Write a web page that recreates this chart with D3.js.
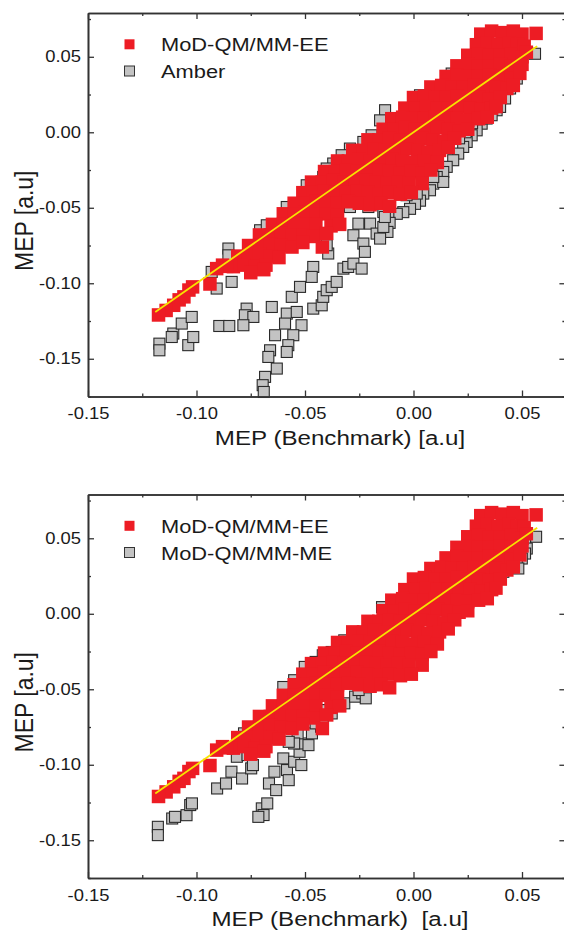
<!DOCTYPE html>
<html>
<head>
<meta charset="utf-8">
<script src="https://cdn.jsdelivr.net/npm/d3@7"></script>
<style>
  body { margin: 0; background: #fff; }
  text { font-family: "Liberation Sans", Arial, sans-serif; fill: #1a1a1a; }
</style>
</head>
<body>
<svg width="564" height="932"></svg>
<script>
const svg = d3.select("svg");

// axis ticks
const xMajor = [-0.15, -0.10, -0.05, 0.00, 0.05];
const xMinor = [-0.125, -0.075, -0.025, 0.025];
const yMajor = [-0.15, -0.10, -0.05, 0.00, 0.05];
const yMinor = [-0.175, -0.125, -0.075, -0.025, 0.025, 0.075];

// fit line (y = x) end points
const fitX = [-0.119, 0.057];
const fitY = [-0.119, 0.057];

// MoD-QM/MM-EE, same in both panels
const modEE = [
  [0.031,0.065],[0.036,0.067],[0.041,0.066],[0.046,0.067],[0.050,0.065],[0.0565,0.0655],
  [0.029,0.058],[0.034,0.059],[0.039,0.058],[0.044,0.059],[0.048,0.058],[0.051,0.057],
  [0.025,0.051],[0.030,0.052],[0.035,0.051],[0.040,0.051],[0.045,0.052],[0.050,0.050],[0.052,0.053],
  [0.020,0.044],[0.025,0.045],[0.030,0.044],[0.035,0.044],[0.040,0.045],[0.045,0.044],[0.050,0.045],
  [0.015,0.037],[0.020,0.038],[0.025,0.037],[0.030,0.037],[0.035,0.038],[0.040,0.037],[0.045,0.036],[0.049,0.039],
  [0.008,0.030],[0.013,0.031],[0.018,0.030],[0.023,0.030],[0.028,0.031],[0.033,0.030],[0.038,0.030],[0.043,0.029],[0.046,0.031],
  [0.000,0.023],[0.005,0.024],[0.010,0.023],[0.015,0.023],[0.020,0.024],[0.025,0.023],[0.030,0.023],[0.035,0.022],[0.040,0.023],
  [-0.004,0.016],[0.001,0.016],[0.006,0.017],[0.011,0.016],[0.016,0.016],[0.021,0.017],[0.026,0.016],[0.031,0.015],[0.036,0.016],[0.038,0.017],
  [-0.010,0.009],[-0.005,0.010],[0.000,0.009],[0.005,0.009],[0.010,0.010],[0.015,0.009],[0.020,0.009],[0.025,0.008],[0.030,0.009],[0.034,0.010],
  [-0.014,0.002],[-0.009,0.002],[-0.004,0.003],[0.001,0.002],[0.006,0.002],[0.011,0.003],[0.016,0.002],[0.021,0.001],[0.025,0.002],
  [-0.021,-0.005],[-0.016,-0.005],[-0.011,-0.004],[-0.006,-0.005],[-0.001,-0.005],[0.004,-0.004],[0.009,-0.005],[0.014,-0.006],[0.019,-0.004],
  [-0.028,-0.012],[-0.023,-0.012],[-0.018,-0.011],[-0.013,-0.012],[-0.008,-0.012],[-0.003,-0.011],[0.002,-0.012],[0.007,-0.013],[0.012,-0.012],[0.016,-0.010],
  [-0.035,-0.019],[-0.030,-0.019],[-0.025,-0.018],[-0.020,-0.019],[-0.015,-0.019],[-0.010,-0.018],[-0.005,-0.019],[0.000,-0.020],[0.005,-0.019],[0.011,-0.020],
  [-0.041,-0.026],[-0.036,-0.026],[-0.031,-0.025],[-0.026,-0.026],[-0.021,-0.026],[-0.016,-0.025],[-0.011,-0.026],[-0.006,-0.027],[-0.001,-0.026],[0.004,-0.027],[0.008,-0.025],
  [-0.047,-0.033],[-0.042,-0.033],[-0.037,-0.032],[-0.032,-0.033],[-0.027,-0.033],[-0.022,-0.032],[-0.017,-0.033],[-0.012,-0.034],[-0.007,-0.033],[-0.002,-0.034],[0.004,-0.034],
  [-0.051,-0.040],[-0.046,-0.040],[-0.041,-0.039],[-0.036,-0.040],[-0.031,-0.040],[-0.026,-0.039],[-0.021,-0.040],[-0.016,-0.041],[-0.011,-0.040],[-0.006,-0.041],[-0.001,-0.040],
  [-0.055,-0.047],[-0.050,-0.047],[-0.045,-0.046],[-0.040,-0.047],[-0.035,-0.047],[-0.030,-0.046],[-0.025,-0.047],[-0.020,-0.048],[-0.015,-0.047],[-0.011,-0.049],
  [-0.060,-0.054],[-0.055,-0.054],[-0.050,-0.053],[-0.045,-0.054],[-0.040,-0.054],[-0.035,-0.055],
  [-0.065,-0.061],[-0.060,-0.061],[-0.055,-0.060],[-0.050,-0.061],[-0.045,-0.061],[-0.038,-0.062],[-0.034,-0.061],
  [-0.071,-0.068],[-0.066,-0.068],[-0.061,-0.067],[-0.056,-0.068],[-0.051,-0.068],[-0.046,-0.069],[-0.040,-0.067],
  [-0.076,-0.075],[-0.071,-0.075],[-0.066,-0.074],[-0.061,-0.075],[-0.056,-0.076],[-0.051,-0.073],[-0.042,-0.076],
  [-0.081,-0.082],[-0.076,-0.082],[-0.071,-0.081],[-0.066,-0.082],[-0.062,-0.083],
  [-0.088,-0.088],[-0.083,-0.089],[-0.078,-0.088],[-0.073,-0.089],[-0.068,-0.088],
  [-0.075,-0.093],[-0.069,-0.091],[-0.0861,-0.0888],[-0.0907,-0.0903],
  [-0.0938,-0.1005],[-0.1018,-0.1024],[-0.1035,-0.1045],[-0.1058,-0.109],[-0.108,-0.111],
  [-0.1105,-0.1146],[-0.114,-0.118],[-0.1175,-0.121]
];

// Amber (top panel)
const amber = [
  [0.056,0.052],[0.0499,0.0477],[0.0483,0.0422],[0.0476,0.0356],[0.0445,0.029],[0.0422,0.0224],
  [0.0399,0.0168],[0.0383,0.0146],[0.036,0.0113],[0.0337,0.0091],[0.0314,0.0057],[0.0291,0.0013],
  [0.0268,-0.002],[0.0245,-0.0064],[0.0229,-0.0097],[0.0206,-0.0141],[0.0183,-0.0185],[0.0153,-0.0229],
  [0.0137,-0.0263],[0.0107,-0.0296],[0.0091,-0.034],[0.0076,-0.0384],[0.0045,-0.0406],[0.003,-0.0453],
  [0.0007,-0.0474],[-0.0016,-0.0507],[-0.0047,-0.0529],[-0.0077,-0.054],[-0.0116,-0.0562],
  [0.0199,0.0013],[0.0137,-0.0329],[0.0015,-0.0406],[-0.0032,-0.0417],[0.0091,-0.0296],
  [0.027,0.006],[0.031,0.009],[0.024,0.0],[0.021,-0.004],[0.033,0.015],
  [0.0176,0.0389],[0.003,0.0245],[-0.0131,0.0146],[-0.0154,0.0079],[-0.0193,-0.002],[-0.0231,-0.0064],
  [-0.0293,-0.0108],[-0.0331,-0.0152],[-0.037,-0.0207],[-0.04,-0.024],[-0.0416,-0.0296],[-0.0462,-0.034],
  [-0.0492,-0.0351],[-0.05,-0.0406],[-0.0584,-0.0495],[-0.0707,-0.0649],[-0.0676,-0.0616],
  [-0.0293,-0.0495],[-0.0208,-0.0495],[-0.0139,-0.0528],[-0.011,-0.060],[-0.012,-0.066],
  [-0.0853,-0.077],[-0.0853,-0.0815],[-0.093,-0.0925],[-0.0907,-0.1035],[-0.0838,-0.0991],
  [-0.0895,-0.1283],[-0.0849,-0.1283],
  [-0.0769,-0.1168],[-0.0777,-0.1212],[-0.0738,-0.1223],[-0.0784,-0.1278],
  [-0.0653,-0.1157],[-0.0638,-0.1344],[-0.0661,-0.1444],[-0.0669,-0.1488],[-0.063,-0.1565],
  [-0.0684,-0.162],[-0.0695,-0.1675],[-0.069,-0.172],
  [-0.0584,-0.1201],[-0.0592,-0.1267],[-0.0538,-0.119],[-0.0516,-0.1278],[-0.0554,-0.1344],
  [-0.0577,-0.141],[-0.0584,-0.1455],
  [-0.0561,-0.109],[-0.0523,-0.1024],[-0.0462,-0.0892],[-0.0469,-0.0958],
  [-0.0462,-0.1168],[-0.0423,-0.1146],[-0.0416,-0.109],[-0.04,-0.1046],[-0.0377,-0.1024],[-0.0354,-0.0991],
  [-0.0323,-0.0903],[-0.0301,-0.0892],[-0.0277,-0.087],[-0.0239,-0.0903],
  [-0.0393,-0.0803],[-0.04,-0.0748],
  [-0.0277,-0.0682],[-0.0231,-0.0737],[-0.0224,-0.0792],[-0.0254,-0.0605],[-0.02,-0.0605],
  [-0.017,-0.0671],[-0.0139,-0.0627],[-0.0132,-0.0561],[-0.0154,-0.0704],
  [-0.1171,-0.14],[-0.1171,-0.1444],[-0.1107,-0.1333],[-0.1114,-0.1356],[-0.1068,-0.1267],
  [-0.1022,-0.1223],[-0.1038,-0.141],[-0.1015,-0.1356]
];

// MoD-QM/MM-ME (bottom panel)
const modME = [
  [0.0565,0.051],[0.0514,0.0465],[0.0522,0.0432],[0.0514,0.0399],[0.0499,0.0366],[0.0476,0.0321],
  [0.0483,0.030],[0.0445,0.0311],[0.0414,0.0278],[0.0399,0.0255],
  [0.0383,0.0253],[0.0342,0.0209],[0.0292,0.0187],[0.0243,0.0143],[0.0202,0.0099],[0.016,0.0022],
  [0.0127,-0.0044],[0.0102,-0.011],[0.0069,-0.0154],[0.0045,-0.0198],[0.002,-0.0253],[-0.0038,-0.0286],
  [-0.0071,-0.033],[-0.0104,-0.0374],
  [-0.0145,0.0044],[0.0168,0.0022],[-0.0096,-0.0374],[0.0012,-0.033],
  [-0.0137,-0.0077],[-0.0178,-0.0088],[-0.0253,-0.0154],[-0.0319,-0.0176],[-0.0344,-0.022],
  [-0.0377,-0.0253],[-0.0418,-0.0275],[-0.0451,-0.0319],[-0.0501,-0.0352],[-0.055,-0.044],[-0.06,-0.0485],
  [-0.0352,-0.0571],[-0.0319,-0.0593],[-0.0269,-0.0549],[-0.0236,-0.0527],[-0.022,-0.056],[-0.0253,-0.0505],
  [-0.0699,-0.1289],[-0.0691,-0.1333],[-0.0674,-0.1256],[-0.0666,-0.1124],[-0.0633,-0.1168],
  [-0.0641,-0.1046],[-0.06,-0.0958],[-0.0583,-0.1035],[-0.0575,-0.1102],[-0.055,-0.098],
  [-0.0517,-0.1002],[-0.0525,-0.0914],[-0.0517,-0.0859],[-0.0484,-0.087],[-0.0468,-0.0792],
  [-0.0426,-0.0748],[-0.0451,-0.0726],[-0.0418,-0.0704],[-0.0435,-0.0638],[-0.0401,-0.0638],
  [-0.0377,-0.066],[-0.0534,-0.0792],[-0.055,-0.0859],[-0.0575,-0.0848],[-0.0715,-0.1345],
  [-0.0905,-0.1157],[-0.0864,-0.1124],[-0.0839,-0.1046],[-0.079,-0.1091],[-0.0748,-0.1024],
  [-0.0814,-0.0947],[-0.0765,-0.0936],[-0.074,-0.1002],[-0.0757,-0.087],[-0.0781,-0.0792],
  [-0.1178,-0.1411],[-0.1178,-0.1466],[-0.1112,-0.1356],[-0.1099,-0.1345],[-0.1046,-0.1334],
  [-0.1029,-0.1267],[-0.1021,-0.1256]
];

const red = "#ed1c24", grey = "#c3c3c3", ink = "#333";
const sx = 1.15;  // the original figure is a bit wider than tall, text too
const redSize = 13.5, greySize = 11;

const x = d3.scaleLinear().domain([-0.15, 0.07]).range([88, 565.4]);

const stretchText = (g, px, py, str, size, anchor, rot) => {
  return g.append("text")
    .attr("transform", `translate(${px},${py}) scale(${sx},1)` + (rot ? ` rotate(${rot})` : ""))
    .attr("text-anchor", anchor)
    .style("font-size", size + "px")
    .style("white-space", "pre")
    .text(str);
};

const drawPanel = (dy, greyData, greyName, xTitle) => {
  const g = svg.append("g").attr("transform", `translate(0,${dy})`);
  const y = d3.scaleLinear().domain([-0.175, 0.079]).range([396.5, 13]);
  const bottom = y.range()[0], top = y.range()[1];

  // grey first, red above it, then the fit line
  g.append("g").selectAll("rect").data(greyData).enter().append("rect")
    .attr("x", d => x(d[0]) - greySize / 2).attr("y", d => y(d[1]) - greySize / 2)
    .attr("width", greySize).attr("height", greySize)
    .attr("fill", grey).attr("stroke", "#2a2a2a").attr("stroke-width", 1.1);

  g.append("g")
    .selectAll("rect").data(modEE).enter().append("rect")
    .attr("x", d => x(d[0]) - redSize / 2).attr("y", d => y(d[1]) - redSize / 2)
    .attr("width", redSize).attr("height", redSize)
    .attr("fill", red);

  g.append("line")
    .attr("x1", x(fitX[0])).attr("y1", y(fitY[0]))
    .attr("x2", x(fitX[1])).attr("y2", y(fitY[1]))
    .attr("stroke", "#f7e400").attr("stroke-width", 1.8);

  // axes, ticks pointing inwards
  const styleAxis = a => {
    a.select(".domain").attr("stroke", ink).attr("stroke-width", 1.6);
    a.selectAll(".tick line").attr("stroke", ink).attr("stroke-width", 1.3);
    a.selectAll("text").attr("fill", "#1a1a1a")
      .style("font-family", '"Liberation Sans", Arial, sans-serif').style("font-size", "16px");
  };
  const axB = g.append("g").attr("transform", `translate(0,${bottom})`)
    .call(d3.axisBottom(x).tickValues(xMajor).tickSizeInner(-6).tickSizeOuter(0).tickPadding(11.5)
      .tickFormat(d3.format(".2f")));
  axB.selectAll("text").attr("transform", `scale(${sx},1)`).text(d => d3.format(".2f")(d).replace("−", "-"));
  styleAxis(axB);
  const axBm = g.append("g").attr("transform", `translate(0,${bottom})`)
    .call(d3.axisBottom(x).tickValues(xMinor).tickSizeInner(-3).tickSizeOuter(0).tickFormat(""));
  styleAxis(axBm);

  const axT = g.append("g").attr("transform", `translate(0,${top})`)
    .call(d3.axisTop(x).tickValues(xMajor).tickSizeInner(-6).tickSizeOuter(0).tickFormat(""));
  styleAxis(axT);
  const axTm = g.append("g").attr("transform", `translate(0,${top})`)
    .call(d3.axisTop(x).tickValues(xMinor).tickSizeInner(-3).tickSizeOuter(0).tickFormat(""));
  styleAxis(axTm);

  const axL = g.append("g").attr("transform", `translate(${x.range()[0]},0)`)
    .call(d3.axisLeft(y).tickValues(yMajor).tickSizeInner(-6).tickSizeOuter(0).tickPadding(7));
  axL.selectAll("text").attr("x", -7 / sx).attr("transform", `scale(${sx},1)`)
    .text(d => d3.format(".2f")(d).replace("−", "-"));
  styleAxis(axL);
  const axLm = g.append("g").attr("transform", `translate(${x.range()[0]},0)`)
    .call(d3.axisLeft(y).tickValues(yMinor).tickSizeInner(-3).tickSizeOuter(0).tickFormat(""));
  styleAxis(axLm);

  const axR = g.append("g").attr("transform", `translate(${x.range()[1]},0)`)
    .call(d3.axisRight(y).tickValues(yMajor).tickSizeInner(-6).tickSizeOuter(0).tickFormat(""));
  styleAxis(axR);
  const axRm = g.append("g").attr("transform", `translate(${x.range()[1]},0)`)
    .call(d3.axisRight(y).tickValues(yMinor).tickSizeInner(-3).tickSizeOuter(0).tickFormat(""));
  styleAxis(axRm);

  // titles
  stretchText(g, 340, bottom + 48, xTitle, 21, "middle");
  stretchText(g, 33, (top + bottom) / 2 + 16, "MEP [a.u]", 23, "middle", -90);

  // legend
  const leg = [
    { name: "MoD-QM/MM-EE", fill: red, stroke: "none", ly: top + 31.3 },
    { name: greyName, fill: grey, stroke: ink, ly: top + 58 }
  ];
  leg.forEach(l => {
    g.append("rect")
      .attr("x", 129.5 - 5).attr("y", l.ly - 5).attr("width", 10).attr("height", 10)
      .attr("fill", l.fill).attr("stroke", l.stroke).attr("stroke-width", 1);
    stretchText(g, 161, l.ly + 7, l.name, 19, "start");
  });
};

drawPanel(0, amber, "Amber", "MEP (Benchmark) [a.u]");
drawPanel(481.5, modME, "MoD-QM/MM-ME", "MEP (Benchmark)  [a.u]");
</script>
</body>
</html>
